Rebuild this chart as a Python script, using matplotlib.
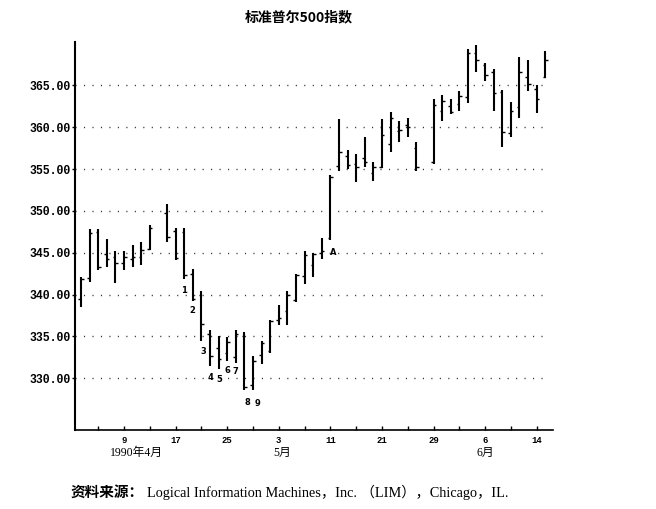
import matplotlib.pyplot as plt
import numpy as np

# S&P 500 daily bars, Apr - Jun 1990
dates = ["1990-04-02", "1990-04-03", "1990-04-04", "1990-04-05", "1990-04-06",
         "1990-04-09", "1990-04-10", "1990-04-11", "1990-04-12",
         "1990-04-16", "1990-04-17", "1990-04-18", "1990-04-19", "1990-04-20",
         "1990-04-23", "1990-04-24", "1990-04-25", "1990-04-26", "1990-04-27",
         "1990-04-30", "1990-05-01", "1990-05-02", "1990-05-03", "1990-05-04",
         "1990-05-07", "1990-05-08", "1990-05-09", "1990-05-10", "1990-05-11",
         "1990-05-14", "1990-05-15", "1990-05-16", "1990-05-17", "1990-05-18",
         "1990-05-21", "1990-05-22", "1990-05-23", "1990-05-24", "1990-05-25",
         "1990-05-29", "1990-05-30", "1990-05-31", "1990-06-01",
         "1990-06-04", "1990-06-05", "1990-06-06", "1990-06-07", "1990-06-08",
         "1990-06-11", "1990-06-12", "1990-06-13", "1990-06-14", "1990-06-15"]
opens = [339.5, 342.0, 347.5, 344.8, 344.5,
         343.8, 344.2, 344.5, 345.5,
         349.7, 347.6, 347.5, 342.5, 340.0,
         335.3, 333.6, 333.0, 332.5, 335.0,
         329.2, 332.8, 333.2, 337.0, 338.0,
         339.3, 342.2, 343.5, 345.0, 346.8,
         355.4, 356.6, 355.6, 356.3, 354.5,
         355.3, 358.0, 359.5, 360.3, 357.5,
         355.8, 362.0, 362.5, 362.8,
         363.6, 368.9, 367.5, 366.6, 364.2,
         359.3, 362.4, 366.0, 364.6, 366.0]
highs = [342.1, 347.8, 347.8, 346.6, 345.2,
         345.2, 345.9, 346.3, 348.3,
         350.8, 347.9, 347.9, 343.1, 340.4,
         335.7, 335.1, 334.9, 335.7, 335.5,
         332.7, 334.5, 337.0, 338.8, 340.4,
         342.5, 345.2, 345.0, 346.8, 354.3,
         361.0, 357.3, 356.8, 358.8, 355.8,
         361.0, 361.8, 360.8, 361.1, 358.2,
         363.4, 363.9, 363.4, 364.3,
         369.4, 369.9, 367.7, 367.0, 364.5,
         363.0, 368.4, 368.1, 365.0, 369.1]
lows = [338.5, 341.5, 342.9, 343.3, 341.4,
        342.9, 343.3, 343.5, 345.3,
        346.3, 344.1, 341.9, 339.2, 334.5,
        331.5, 331.1, 332.1, 331.8, 328.6,
        328.6, 331.7, 333.0, 336.3, 336.3,
        339.1, 341.3, 342.1, 344.2, 346.5,
        354.8, 355.0, 353.4, 355.2, 353.6,
        355.1, 357.1, 358.2, 358.8, 354.8,
        355.6, 360.7, 361.6, 362.0,
        362.9, 366.6, 365.5, 362.0, 357.6,
        358.8, 361.1, 364.3, 361.7, 365.9]
closes = [341.8, 347.3, 343.3, 344.2, 343.8,
          344.5, 344.5, 345.3, 348.0,
          346.9, 344.4, 342.3, 339.5, 336.5,
          332.7, 332.3, 334.3, 335.3, 329.0,
          332.0, 334.2, 336.8, 337.2, 339.9,
          342.3, 344.7, 344.8, 345.2, 354.0,
          357.0, 355.5, 355.2, 355.8, 355.2,
          359.1, 361.1, 359.7, 360.0, 355.2,
          362.7, 363.1, 361.8, 363.8,
          368.9, 368.0, 366.3, 364.1, 359.4,
          362.0, 366.6, 365.2, 363.4, 368.1]

tick_dates = ["1990-04-09", "1990-04-17", "1990-04-25", "1990-05-03", "1990-05-11",
              "1990-05-21", "1990-05-29", "1990-06-06", "1990-06-14"]
tick_labels = ["9", "17", "25", "3", "11", "21", "29", "6", "14"]
y_ticks = [330, 335, 340, 345, 350, 355, 360, 365]

# wave counts written on the chart
wave_labels = ["1", "2", "3", "4", "5", "6", "7", "8", "9", "A"]
wave_x = [7.0, 8.0, 9.2, 10.1, 11.1, 12.05, 13.0, 14.4, 15.5, 24.3]
wave_y = [340.5, 338.1, 333.2, 330.1, 329.8, 330.9, 330.8, 327.1, 327.0, 345.0]

CJK = ['Liberation Serif', 'Noto Sans CJK SC']
MONO = 'Liberation Mono'

# x position = weekday count from Apr 9 (holidays stay blank)
base = "1990-04-09"
xs = np.array([np.busday_count(base, d) if d >= base else -np.busday_count(d, base)
               for d in dates])
tick_x = [np.busday_count(base, d) for d in tick_dates]

fig = plt.figure(figsize=(6.56, 5.09), dpi=100)
ax = fig.add_axes([0.1143, 0.1552, 0.7287, 0.7623])

xmin, xmax = -5.7, 49.9
ax.set_xlim(xmin, xmax)
ax.set_ylim(323.8, 370.2)

# dotted grid
ax.hlines(y_ticks, xmin, 49.3, colors='#333333', linewidth=1.0,
          linestyles=[(0, (0.8, 5.3))], zorder=1)

# OHLC bars
tk = 0.3
ax.vlines(xs, lows, highs, colors='black', linewidth=1.5, zorder=3)
ax.hlines(opens, xs - tk, xs, colors='black', linewidth=1.0, zorder=3)
ax.hlines(closes, xs, xs + tk, colors='black', linewidth=1.0, zorder=3)

for t, x, y in zip(wave_labels, wave_x, wave_y):
    ax.text(x, y, t, fontsize=6, fontweight='bold', ha='center', va='center')

for s in ['top', 'right']:
    ax.spines[s].set_visible(False)
ax.spines['left'].set_linewidth(1.5)
ax.spines['bottom'].set_linewidth(1.2)

ax.set_yticks(y_ticks)
ax.set_yticklabels([f"{v:.2f}" for v in y_ticks], family=MONO, fontsize=8.3,
                   fontweight='bold')
ax.tick_params(axis='y', length=2, width=1, pad=1)

ax.set_xticks(tick_x)
ax.set_xticklabels(tick_labels, family=MONO, fontsize=6.5, fontweight='bold')
ax.set_xticks(np.arange(-3, 49, 3), minor=True)
ax.tick_params(axis='x', which='both', direction='in', length=3, width=1, pad=4)

# month labels under the axis
ax.text(1.5, -0.06, "1990年4月", transform=ax.get_xaxis_transform(),
        family=CJK, fontsize=8.5, ha='center', va='center')
ax.text(18.4, -0.06, "5月", transform=ax.get_xaxis_transform(),
        family=CJK, fontsize=8.5, ha='center', va='center')
ax.text(42.0, -0.06, "6月", transform=ax.get_xaxis_transform(),
        family=CJK, fontsize=8.5, ha='center', va='center')

fig.text(0.456, 0.965, "标准普尔500指数", family=['Noto Sans CJK SC', 'DejaVu Sans'],
         fontsize=10, fontweight='bold', ha='center', va='center')

fig.text(0.108, 0.033, "资料来源：", family=['Noto Sans CJK SC'], fontsize=10.5,
         fontweight='bold', ha='left', va='center')
fig.text(0.224, 0.033, "Logical Information Machines，Inc. （LIM），Chicago，IL.",
         family=CJK, fontsize=10.3, ha='left', va='center')

fig.savefig("out.png", dpi=100)
